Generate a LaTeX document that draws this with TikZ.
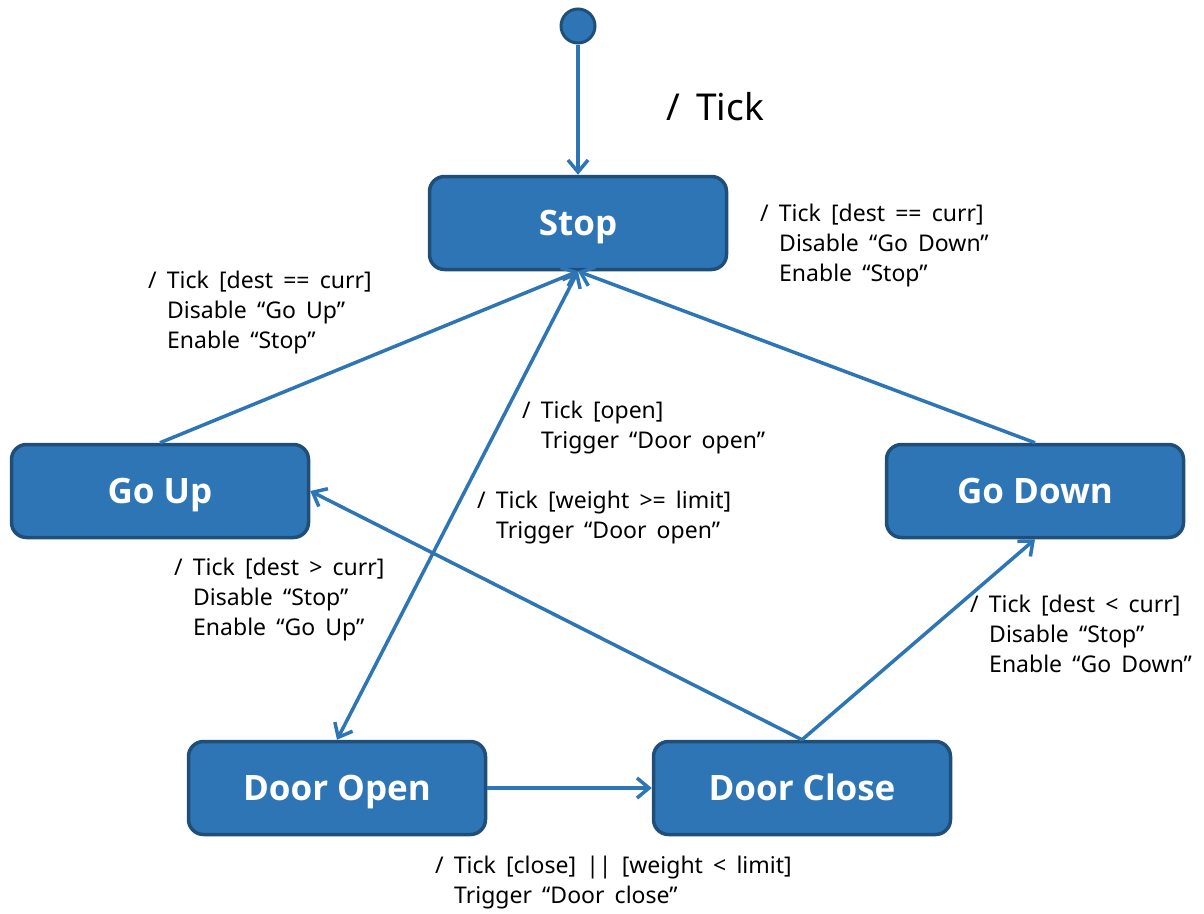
\documentclass[tikz,border=0pt]{standalone}
\usepackage{fontspec}
\setmainfont{Noto Sans}[WordSpace=1.7]
\newfontfamily\boxfont{Open Sans}
\usetikzlibrary{arrows.meta}
\definecolor{stfill}{HTML}{2E75B6}
\definecolor{stedge}{HTML}{1F4E79}
\definecolor{flow}{HTML}{2E75B6}
\tikzset{
  state/.style={draw=stedge, fill=stfill, line width=3.5pt, rounded corners=15pt,
    minimum width=297pt, minimum height=93pt, inner sep=0pt,
    text height=25pt, text depth=0pt,
    text=white, font=\boxfont\bfseries\fontsize{35}{40}\selectfont},
  initial/.style={circle, draw=stedge, fill=stfill, line width=3pt, minimum size=34pt, inner sep=0pt},
  barb/.tip={Straight Barb[length=12pt,width=20pt,line width=3.5pt]},
  flowline/.style={draw=flow, line width=3.5pt, -barb},
  twoway/.style={draw=flow, line width=3.5pt, barb-barb},
  guard/.style={anchor=north west, inner sep=0pt, align=left, text=black,
    font=\fontsize{23}{30}\selectfont},
}
\newcommand{\ind}{\hspace*{19pt}}
\begin{document}
\begin{tikzpicture}[x=1pt, y=-1pt]
\useasboundingbox (0,0) rectangle (1204,913);

% states
\node[initial] (init) at (578,26) {};
\node[state] (stop) at (578,223) {Stop};
\node[state] (goup) at (160,491) {Go Up};
\node[state] (godown) at (1035,491) {Go Down};
\node[state] (dopen) at (337,788) {Door Open};
\node[state] (dclose) at (802,788) {Door Close};

% transitions
\draw[flowline] (init) -- (stop.north);
\draw[flowline] (goup.north) -- (stop.south);
\draw[flowline] (godown.north) -- (stop.south);
\draw[twoway] (stop.south) -- (dopen.north);
\draw[flowline] (dopen.east) -- (dclose.west);
\draw[flowline] (dclose.north) -- (goup.east);
\draw[flowline] (dclose.north) -- (godown.south);

% guards and actions
\node[anchor=north west, inner sep=0pt, font=\fontsize{37}{40}\selectfont] (tickinit) at (666,92) {/ Tick};
\node[guard] (g1) at (760,204) {/ Tick [dest == curr]\\ \ind Disable “Go Down”\\ \ind Enable “Stop”};
\node[guard] (g2) at (148,271) {/ Tick [dest == curr]\\ \ind Disable “Go Up”\\ \ind Enable “Stop”};
\node[guard] (g3) at (522,401) {/ Tick [open]\\ \ind Trigger “Door open”};
\node[guard] (g4) at (477,491) {/ Tick [weight >= limit]\\ \ind Trigger “Door open”};
\node[guard] (g5) at (174,558) {/ Tick [dest > curr]\\ \ind Disable “Stop”\\ \ind Enable “Go Up”};
\node[guard] (g6) at (970,595) {/ Tick [dest < curr]\\ \ind Disable “Stop”\\ \ind Enable “Go Down”};
\node[guard] (g7) at (435,856) {/ Tick [close] || [weight < limit]\\ \ind Trigger “Door close”};
\end{tikzpicture}
\end{document}
